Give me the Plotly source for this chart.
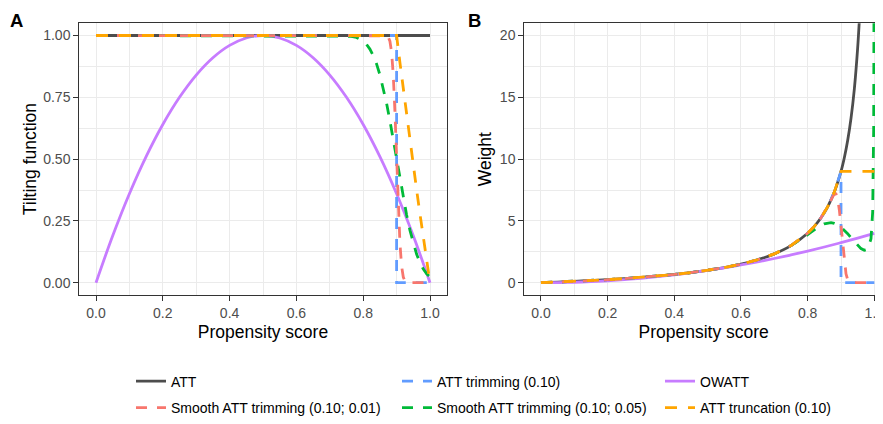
import plotly.graph_objects as go

# ---------------- data ----------------
# Panel A: tilting functions
att_x = [0.0, 1.0]
att_tilt = [1.0, 1.0]

trim_x = [0.0, 0.9, 0.9, 1.0]
trim_tilt = [1.0, 1.0, 0.0, 0.0]

s01_x = [0.0, 0.86, 0.87, 0.875, 0.88, 0.885, 0.89, 0.895, 0.9, 0.905, 0.91, 0.915, 0.92, 0.925, 0.93, 0.94, 1.0]
s01_tilt = [1.0, 1.0, 0.999, 0.994, 0.977, 0.933, 0.841, 0.691, 0.5, 0.309, 0.159, 0.067, 0.023, 0.006, 0.001, 0.0, 0.0]

s05_x = [0.0, 0.7, 0.75, 0.76, 0.78, 0.79, 0.8, 0.81, 0.82, 0.83, 0.84, 0.85, 0.86, 0.87, 0.88, 0.89, 0.9,
         0.91, 0.92, 0.93, 0.94, 0.95, 0.96, 0.97, 0.98, 0.99, 1.0]
s05_tilt = [1.0, 1.0, 0.999, 0.997, 0.992, 0.986, 0.977, 0.964, 0.945, 0.919, 0.885, 0.841, 0.788, 0.726, 0.655,
            0.579, 0.5, 0.421, 0.345, 0.274, 0.212, 0.159, 0.115, 0.081, 0.055, 0.036, 0.023]

trunc_x = [0.0, 0.9, 0.91, 0.92, 0.93, 0.94, 0.95, 0.96, 0.97, 0.98, 0.99, 1.0]
trunc_tilt = [1.0, 1.0, 0.890, 0.783, 0.677, 0.574, 0.474, 0.375, 0.278, 0.184, 0.091, 0.0]

ow_x = [0.0, 0.05, 0.1, 0.15, 0.2, 0.25, 0.3, 0.35, 0.4, 0.45, 0.5, 0.55, 0.6, 0.65, 0.7, 0.75, 0.8, 0.85,
        0.9, 0.95, 1.0]
ow_tilt = [0.0, 0.19, 0.36, 0.51, 0.64, 0.75, 0.84, 0.91, 0.96, 0.99, 1.0, 0.99, 0.96, 0.91, 0.84, 0.75, 0.64,
           0.51, 0.36, 0.19, 0.0]

# Panel B: weights
base_x = [0.0, 0.05, 0.1, 0.15, 0.2, 0.25, 0.3, 0.35, 0.4, 0.45, 0.5, 0.55, 0.6, 0.65, 0.7, 0.75]
base_w = [0.0, 0.053, 0.111, 0.176, 0.25, 0.333, 0.429, 0.538, 0.667, 0.818, 1.0, 1.222, 1.5, 1.857, 2.333, 3.0]

att_wx = base_x + [0.8, 0.82, 0.84, 0.86, 0.88, 0.9, 0.91, 0.92, 0.93, 0.94, 0.95, 0.955, 0.96]
att_w = base_w + [4.0, 4.556, 5.25, 6.143, 7.333, 9.0, 10.11, 11.5, 13.29, 15.67, 19.0, 21.22, 24.0]

trim_wx = base_x + [0.8, 0.82, 0.84, 0.86, 0.88, 0.9, 0.9, 1.0]
trim_w = base_w + [4.0, 4.556, 5.25, 6.143, 7.333, 9.0, 0.0, 0.0]

s01_wx = base_x + [0.8, 0.82, 0.84, 0.86, 0.87, 0.875, 0.88, 0.885, 0.89, 0.895, 0.9, 0.905, 0.91, 0.915,
                   0.92, 0.925, 0.93, 0.94, 1.0]
s01_w = base_w + [4.0, 4.556, 5.25, 6.14, 6.68, 6.96, 7.17, 7.18, 6.80, 5.89, 4.5, 2.94, 1.61, 0.72,
                  0.26, 0.07, 0.013, 0.0, 0.0]

s05_wx = base_x + [0.78, 0.8, 0.81, 0.82, 0.83, 0.84, 0.85, 0.86, 0.87, 0.88, 0.89, 0.9, 0.91, 0.92, 0.93,
                   0.94, 0.95, 0.96, 0.97, 0.98, 0.99, 0.995, 0.998, 0.999]
s05_w = base_w + [3.52, 3.91, 4.11, 4.30, 4.49, 4.65, 4.77, 4.84, 4.86, 4.80, 4.69, 4.5, 4.26, 3.97, 3.64,
                  3.32, 3.02, 2.76, 2.62, 2.70, 3.56, 5.71, 12.5, 23.5]

trunc_wx = base_x + [0.8, 0.82, 0.84, 0.86, 0.88, 0.9, 1.0]
trunc_w = base_w + [4.0, 4.556, 5.25, 6.143, 7.333, 9.0, 9.0]

ow_wx = ow_x
ow_w = [0.0, 0.01, 0.04, 0.09, 0.16, 0.25, 0.36, 0.49, 0.64, 0.81, 1.0, 1.21, 1.44, 1.69, 1.96, 2.25, 2.56,
        2.89, 3.24, 3.61, 4.0]

x_ticks = [0.0, 0.2, 0.4, 0.6, 0.8, 1.0]
yA_ticks = [0.0, 0.25, 0.5, 0.75, 1.0]
yB_ticks = [0, 5, 10, 15, 20]

# ---------------- styling ----------------
FONT = "Liberation Sans, Arial, Helvetica, sans-serif"
LW = 2.8
OFF = 8                     # page body margin of the html output
W, H = 883 - OFF, 424 - OFF


def px_x(p):
    return max(0.0, (p - OFF) / W)


def px_y(p):
    return min(1.0, 1 - (p - OFF) / H)


# name, color, dash, line shape, legend id, legend text-left px, legend row y px, (xA, yA), (xB, yB)
series = [
    ("ATT", "#4D4D4D", "solid", "spline", "legend", 178, 388, (att_x, att_tilt), (att_wx, att_w)),
    ("OWATT", "#C77CFF", "solid", "spline", "legend5", 707, 388, (ow_x, ow_tilt), (ow_wx, ow_w)),
    ("ATT trimming (0.10)", "#619CFF", "11px,10px", "linear", "legend3", 444, 388, (trim_x, trim_tilt), (trim_wx, trim_w)),
    ("Smooth ATT trimming (0.10; 0.05)", "#00BA38", "11px,10px", "linear", "legend4", 444, 415, (s05_x, s05_tilt), (s05_wx, s05_w)),
    ("Smooth ATT trimming (0.10; 0.01)", "#F8766D", "11px,10px", "linear", "legend2", 178, 415, (s01_x, s01_tilt), (s01_wx, s01_w)),
    ("ATT truncation (0.10)", "#FFA500", "12px,11px", "linear", "legend6", 707, 415, (trunc_x, trunc_tilt), (trunc_wx, trunc_w)),
]

fig = go.Figure()
legends = {}
for name, color, dash, shape, leg, lx, ly, (xa, ya), (xb, yb) in series:
    fig.add_trace(go.Scatter(x=xa, y=ya, mode="lines", name=name, legend=leg,
                             line=dict(color=color, width=LW, dash=dash, shape=shape),
                             xaxis="x", yaxis="y", hoverinfo="skip"))
    fig.add_trace(go.Scatter(x=xb, y=yb, mode="lines", name=name, showlegend=False,
                             line=dict(color=color, width=LW, dash=dash, shape=shape),
                             xaxis="x2", yaxis="y2", hoverinfo="skip"))
    legends[leg] = dict(orientation="h", x=px_x(lx - 47), xanchor="left", y=px_y(ly), yanchor="middle",
                        bgcolor="rgba(0,0,0,0)", font=dict(family=FONT, size=14, color="black"))

common_axis = dict(
    showline=True, linecolor="#333333", linewidth=1.1,
    ticks="outside", ticklen=5, tickwidth=1.1, tickcolor="#333333",
    tickfont=dict(family=FONT, size=14, color="#4D4D4D"),
    showgrid=True, gridcolor="#EBEBEB", gridwidth=1.1, zeroline=False, automargin=False,
)
title_font = dict(family=FONT, size=17.5, color="black")
minor_grid = dict(showgrid=True, gridcolor="#EBEBEB", gridwidth=0.6, ticks="")

fig.update_layout(
    width=W, height=H, margin=dict(l=0, r=0, t=0, b=0),
    paper_bgcolor="white", plot_bgcolor="white",
    font=dict(family=FONT),
    xaxis=dict(domain=[px_x(79.3), px_x(446.7)], range=[-0.05, 1.05], anchor="y", mirror=True,
               tickvals=x_ticks, ticktext=[f"{v:.1f}" for v in x_ticks],
               minor=dict(tick0=0, dtick=0.1, **minor_grid),
               title=dict(text="Propensity score", font=title_font, standoff=5), **common_axis),
    yaxis=dict(domain=[px_y(300), px_y(23.4)], range=[-0.05, 1.05], anchor="x", mirror=True,
               tickvals=yA_ticks, ticktext=[f"{v:.2f}" for v in yA_ticks],
               minor=dict(tick0=0, dtick=0.125, **minor_grid),
               title=dict(text="Tilting function", font=title_font, standoff=2), **common_axis),
    xaxis2=dict(domain=[px_x(524.3), 1.0], range=[-0.05, 1.026], anchor="y2", mirror=True,
                tickvals=x_ticks, ticktext=[f"{v:.1f}" for v in x_ticks], ticklabeloverflow="allow",
                minor=dict(tick0=0, dtick=0.1, **minor_grid),
                title=dict(text="Propensity score", font=title_font, standoff=5), **common_axis),
    yaxis2=dict(domain=[px_y(300), px_y(23.4)], range=[-1, 21], anchor="x2", mirror=False,
                tickvals=yB_ticks, ticktext=[str(v) for v in yB_ticks],
                minor=dict(tick0=0, dtick=2.5, **minor_grid),
                title=dict(text="Weight", font=title_font, standoff=3), **common_axis),
    annotations=[
        dict(text="<b>A</b>", x=px_x(8), y=1.0, xref="paper", yref="paper", xanchor="left",
             yanchor="top", showarrow=False, font=dict(family=FONT, size=18.5, color="black")),
        dict(text="<b>B</b>", x=px_x(466), y=1.0, xref="paper", yref="paper", xanchor="left",
             yanchor="top", showarrow=False, font=dict(family=FONT, size=18.5, color="black")),
    ],
    **legends,
)

fig.write_html("out.html")
